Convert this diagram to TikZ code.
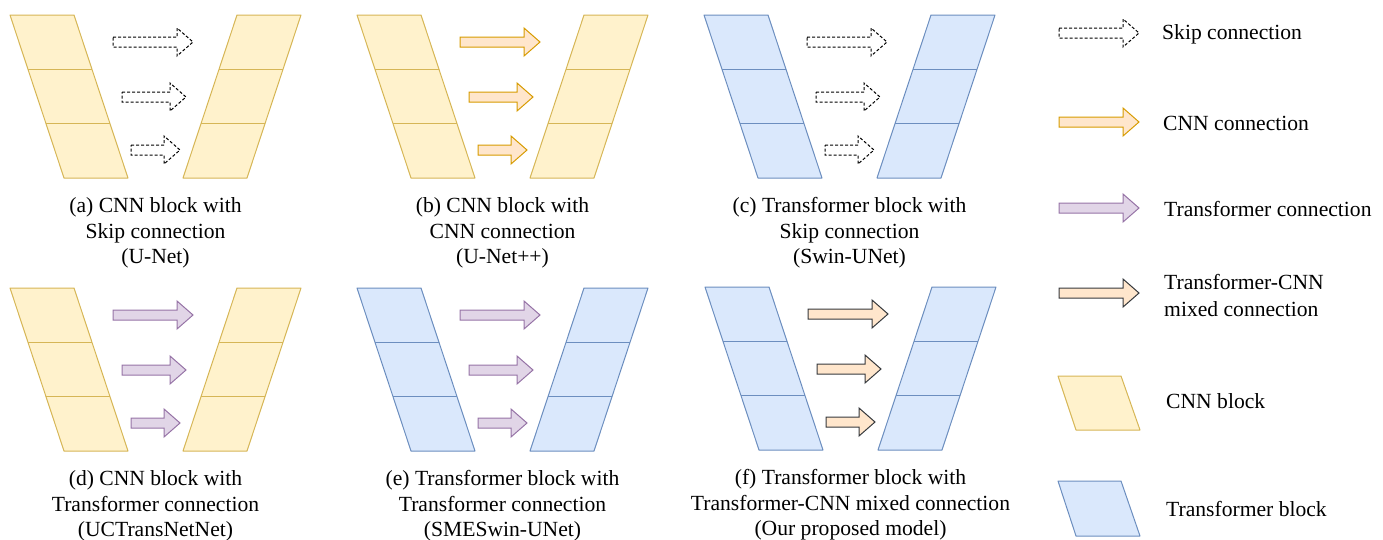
\documentclass[tikz,border=0pt]{standalone}
\usepackage{fontspec}
\setmainfont{Liberation Serif}
\definecolor{cnnfill}{HTML}{FFF2CC}
\definecolor{cnnline}{HTML}{D6B656}
\definecolor{trfill}{HTML}{DAE8FC}
\definecolor{trline}{HTML}{6C8EBF}
\definecolor{orfill}{HTML}{FFE6CC}
\definecolor{orline}{HTML}{D79B00}
\definecolor{pufill}{HTML}{E1D5E7}
\definecolor{puline}{HTML}{9673A6}
\definecolor{mixline}{HTML}{36393D}
\tikzset{
  cnnblk/.style={draw=cnnline, fill=cnnfill, line width=1pt, line join=round},
  trblk/.style={draw=trline, fill=trfill, line width=1pt, line join=round},
  skiparr/.style={draw=black, fill=white, line width=1pt, dash pattern=on 3pt off 2pt},
  cnnarr/.style={draw=orline, fill=orfill, line width=1pt},
  trarr/.style={draw=puline, fill=pufill, line width=1pt},
  mixarr/.style={draw=mixline, line width=1pt, left color=orfill, middle color=pufill!85!violet!60, right color=orfill},
  captxt/.style={align=center, inner sep=0pt, font=\fontsize{21.6}{25.5}\selectfont},
  legtxt/.style={align=left, anchor=west, inner sep=0pt, font=\fontsize{21.6}{27}\selectfont}
}
% style, left x, tip x, centre y
\newcommand{\myarrow}[4]{%
  \path[#1] (#2,{#4-5}) -- ({#3-16},{#4-5}) -- ({#3-16},{#4-14}) -- (#3,#4)
    -- ({#3-16},{#4+14}) -- ({#3-16},{#4+5}) -- (#2,{#4+5}) -- cycle;}
% ox, oy, block style, arrow style, name, caption lines
\newcommand{\mypanel}[8]{%
  \begin{scope}[shift={(#1,#2)}]
    \path[#3] (0,0) -- (64,0) -- (118,163) -- (54,163) -- cycle;
    \draw[#3, fill=none] (17.9,54) -- (81.9,54);
    \draw[#3, fill=none] (35.8,108) -- (99.8,108);
    \path[#3] (227,0) -- (291,0) -- (237,163) -- (173,163) -- cycle;
    \draw[#3, fill=none] (209.1,54) -- (273.1,54);
    \draw[#3, fill=none] (191.2,108) -- (255.2,108);
    \myarrow{#4}{103}{183}{27}
    \myarrow{#4}{112}{176}{82}
    \myarrow{#4}{121}{170}{135}
    \node[captxt] (cap#5) at (145.5,218) {#6\\#7\\#8};
  \end{scope}}
\begin{document}
\begin{tikzpicture}[x=1pt, y=-1pt]
\useasboundingbox (0,0) rectangle (1383,539);
\mypanel{10}{15}{cnnblk}{skiparr}{a}{(a) CNN block with}{Skip connection}{(U-Net)}
\mypanel{357}{15}{cnnblk}{cnnarr}{b}{(b) CNN block with}{CNN connection}{(U-Net++)}
\mypanel{704}{15}{trblk}{skiparr}{c}{(c) Transformer block with}{Skip connection}{(Swin-UNet)}
\mypanel{10}{288}{cnnblk}{trarr}{d}{(d) CNN block with}{Transformer connection}{(UCTransNetNet)}
\mypanel{357}{288}{trblk}{trarr}{e}{(e) Transformer block with}{Transformer connection}{(SMESwin-UNet)}
\mypanel{705}{287}{trblk}{mixarr}{f}{(f) Transformer block with}{Transformer-CNN mixed connection}{(Our proposed model)}
% legend
\myarrow{skiparr}{1059}{1139}{33}
\myarrow{cnnarr}{1059}{1139}{122}
\myarrow{trarr}{1059}{1139}{208}
\myarrow{mixarr}{1059}{1139}{293}
\path[cnnblk] (1058,376) -- (1121,376) -- (1140,430) -- (1076,430) -- cycle;
\path[trblk] (1058,481) -- (1121,481) -- (1140,536) -- (1076,536) -- cycle;
\node[legtxt] (lskip) at (1162,34) {Skip connection};
\node[legtxt] (lcnn) at (1163,123) {CNN connection};
\node[legtxt] (ltr) at (1164,209) {Transformer connection};
\node[legtxt] (lmix) at (1164,295.5) {Transformer-CNN\\mixed connection};
\node[legtxt] (lcnnb) at (1166,401) {CNN block};
\node[legtxt] (ltrb) at (1166,509) {Transformer block};
\end{tikzpicture}
\end{document}
